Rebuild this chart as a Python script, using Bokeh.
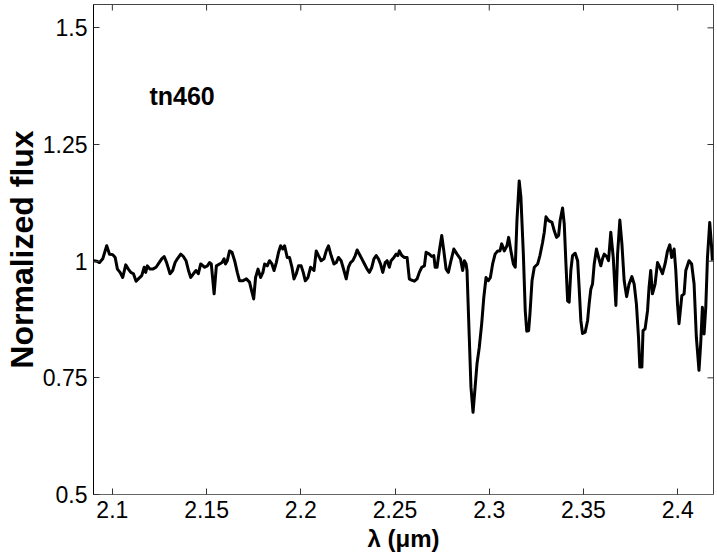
import math
from bokeh.plotting import figure
from bokeh.models import Range1d, FixedTicker, Label
from bokeh.embed import file_html
from bokeh.resources import INLINE

wavelength = [
    2.0900, 2.0917, 2.0932, 2.0949, 2.0970, 2.0985, 2.1002, 2.1015, 2.1027, 2.1041,
    2.1055, 2.1071, 2.1085, 2.1098, 2.1112, 2.1126, 2.1138, 2.1156, 2.1169, 2.1177,
    2.1186, 2.1200, 2.1214, 2.1232, 2.1244, 2.1262, 2.1275, 2.1288, 2.1306, 2.1320,
    2.1333, 2.1345, 2.1363, 2.1377, 2.1391, 2.1404, 2.1416, 2.1430, 2.1444, 2.1456,
    2.1469, 2.1490, 2.1504, 2.1516, 2.1525, 2.1540, 2.1552, 2.1569, 2.1582, 2.1593,
    2.1600, 2.1610, 2.1622, 2.1635, 2.1649, 2.1663, 2.1675, 2.1693, 2.1711, 2.1728,
    2.1737, 2.1750, 2.1760, 2.1773, 2.1787, 2.1799, 2.1808, 2.1822, 2.1834, 2.1847,
    2.1858, 2.1870, 2.1882, 2.1893, 2.1905, 2.1914, 2.1928, 2.1940, 2.1953, 2.1964,
    2.1976, 2.1988, 2.2002, 2.2013, 2.2024, 2.2038, 2.2052, 2.2070, 2.2082, 2.2094,
    2.2108, 2.2123, 2.2135, 2.2147, 2.2161, 2.2176, 2.2188, 2.2200, 2.2214, 2.2229,
    2.2241, 2.2253, 2.2264, 2.2276, 2.2289, 2.2299, 2.2311, 2.2324, 2.2338, 2.2352,
    2.2364, 2.2377, 2.2388, 2.2400, 2.2412, 2.2423, 2.2435, 2.2448, 2.2458, 2.2470,
    2.2479, 2.2494, 2.2506, 2.2515, 2.2523, 2.2536, 2.2550, 2.2564, 2.2576, 2.2585,
    2.2603, 2.2617, 2.2629, 2.2642, 2.2656, 2.2665, 2.2682, 2.2695, 2.2706, 2.2713,
    2.2723, 2.2735, 2.2748, 2.2759, 2.2771, 2.2783, 2.2797, 2.2812, 2.2829, 2.2847,
    2.2859, 2.2868, 2.2877, 2.2882, 2.2894, 2.2903, 2.2914, 2.2925, 2.2935, 2.2947,
    2.2960, 2.2971, 2.2983, 2.2995, 2.3006, 2.3018, 2.3031, 2.3045, 2.3057, 2.3066,
    2.3080, 2.3094, 2.3103, 2.3115, 2.3128, 2.3138, 2.3147, 2.3159, 2.3168, 2.3181,
    2.3191, 2.3199, 2.3209, 2.3216, 2.3227, 2.3239, 2.3257, 2.3269, 2.3283, 2.3292,
    2.3301, 2.3315, 2.3333, 2.3345, 2.3357, 2.3368, 2.3376, 2.3389, 2.3398, 2.3407,
    2.3416, 2.3424, 2.3433, 2.3442, 2.3456, 2.3469, 2.3477, 2.3486, 2.3495, 2.3509,
    2.3522, 2.3530, 2.3539, 2.3548, 2.3557, 2.3569, 2.3580, 2.3592, 2.3601, 2.3610,
    2.3623, 2.3633, 2.3645, 2.3658, 2.3672, 2.3681, 2.3693, 2.3704, 2.3716, 2.3729,
    2.3742, 2.3757, 2.3769, 2.3781, 2.3792, 2.3799, 2.3810, 2.3816, 2.3827, 2.3840,
    2.3848, 2.3857, 2.3866, 2.3880, 2.3893, 2.3905, 2.3919, 2.3933, 2.3946, 2.3958,
    2.3968, 2.3981, 2.3990, 2.3999, 2.4007, 2.4022, 2.4034, 2.4043, 2.4060, 2.4074,
    2.4087, 2.4099, 2.4113, 2.4122, 2.4131, 2.4140, 2.4149, 2.4158, 2.4170, 2.4180,
    2.4184,
]

flux = [
    1.001, 1.000, 0.997, 1.005, 1.033, 1.015, 1.014, 1.008, 0.983, 0.976,
    0.965, 0.992, 0.983, 0.976, 0.973, 0.957, 0.962, 0.969, 0.987, 0.976,
    0.990, 0.983, 0.983, 0.987, 0.994, 1.005, 1.010, 0.997, 0.973, 0.980,
    0.997, 1.005, 1.015, 1.010, 1.001, 0.980, 0.965, 0.973, 0.980, 0.973,
    0.994, 0.987, 0.990, 0.997, 0.994, 0.930, 0.990, 0.994, 0.997, 1.005,
    0.994, 1.001, 1.022, 1.019, 1.001, 0.976, 0.958, 0.958, 0.962, 0.955,
    0.940, 0.919, 0.965, 0.983, 0.965, 0.976, 0.994, 0.990, 1.001, 0.994,
    0.980, 0.997, 1.019, 1.033, 1.026, 1.033, 1.008, 1.008, 0.987, 0.962,
    0.973, 0.990, 0.990, 0.976, 0.958, 0.965, 0.987, 0.980, 1.022, 1.012,
    1.001, 1.005, 1.022, 1.033, 1.012, 0.994, 0.997, 1.008, 1.001, 0.980,
    0.962, 0.987, 0.997, 1.001, 1.012, 1.024, 1.015, 1.005, 0.994, 0.983,
    0.976, 0.987, 1.005, 1.012, 1.005, 0.994, 0.976, 0.997, 1.001, 0.987,
    1.001, 1.008, 1.015, 1.012, 1.022, 1.012, 1.008, 1.008, 0.962, 0.960,
    0.957, 0.962, 0.976, 0.987, 0.990, 1.019, 1.015, 1.010, 1.012, 0.987,
    0.987, 1.022, 1.055, 1.022, 0.983, 0.976, 1.001, 1.026, 1.015, 1.005,
    0.980, 1.001, 0.994, 0.980, 0.837, 0.730, 0.676, 0.730, 0.780, 0.815,
    0.866, 0.922, 0.965, 0.958, 0.965, 0.994, 1.015, 1.022, 1.022, 1.037,
    1.022, 1.033, 1.051, 1.022, 0.994, 0.987, 1.087, 1.172, 1.137, 1.015,
    0.894, 0.850, 0.851, 0.887, 0.958, 0.987, 0.994, 1.012, 1.040, 1.062,
    1.095, 1.087, 1.083, 1.065, 1.051, 1.055, 1.087, 1.114, 1.080, 0.994,
    0.915, 0.912, 0.980, 1.012, 1.017, 1.001, 0.944, 0.873, 0.845, 0.848,
    0.873, 0.908, 0.940, 0.951, 0.994, 1.026, 1.008, 0.990, 1.005, 1.015,
    1.010, 1.001, 1.062, 1.008, 0.905, 1.015, 1.088, 1.037, 0.958, 0.924,
    0.951, 0.967, 0.951, 0.908, 0.837, 0.773, 0.773, 0.851, 0.855, 0.894,
    0.944, 0.980, 0.930, 0.951, 0.997, 0.987, 0.973, 0.994, 1.022, 1.035,
    1.008, 1.026, 0.980, 0.908, 0.866, 0.926, 0.930, 0.980, 1.001, 0.994,
    0.951, 0.837, 0.766, 0.823, 0.901, 0.844, 0.901, 1.008, 1.083, 1.030,
    1.001,
]

x_ticks = [2.1, 2.15, 2.2, 2.25, 2.3, 2.35, 2.4]
x_tick_labels = ["2.1", "2.15", "2.2", "2.25", "2.3", "2.35", "2.4"]
y_ticks = [0.5, 0.75, 1.0, 1.25, 1.5]
y_tick_labels = ["0.5", "0.75", "1", "1.25", "1.5"]
star_name = "tn460"
star_label_pos = (2.1197, 1.353)

FONT = "Liberation Sans"

x_range = Range1d(2.09, 2.419)
y_range = Range1d(0.5, 1.55)

p = figure(
    width=717, height=557,
    output_backend="svg", toolbar_location=None,
    x_range=x_range, y_range=y_range,
    x_axis_location="below", y_axis_location="left",
    min_border_left=92, min_border_right=4, min_border_top=4, min_border_bottom=63,
)
p.grid.visible = False
p.background_fill_color = "white"
p.border_fill_color = "white"
p.outline_line_color = "#444444"
p.outline_line_width = 1

p.line(wavelength, flux, line_color="black", line_width=3, line_join="round")

# mirrored inward ticks on the top and right frame edges (no text)
p.ray(x=x_ticks, y=[y_range.end] * len(x_ticks), length=6, length_units="screen",
      angle=-math.pi / 2, line_color="#333333", line_width=1)
p.ray(x=[x_range.end] * len(y_ticks), y=y_ticks, length=6, length_units="screen",
      angle=math.pi, line_color="#333333", line_width=1)


def style_axis(ax, ticks, labels):
    ax.ticker = FixedTicker(ticks=ticks)
    ax.major_label_overrides = {t: l for t, l in zip(ticks, labels)}
    ax.major_tick_in = 6
    ax.major_tick_out = 0
    ax.minor_tick_in = 0
    ax.minor_tick_out = 0
    ax.major_tick_line_color = "#333333"
    ax.major_label_text_font = FONT
    ax.major_label_text_color = "black"
    ax.major_label_text_font_size = "23px"


xa = p.xaxis[0]
style_axis(xa, x_ticks, x_tick_labels)
xa.major_label_standoff = 6
xa.axis_label = "λ (μm)"
xa.axis_label_text_font = FONT
xa.axis_label_text_font_style = "bold"
xa.axis_label_text_font_size = "24px"
xa.axis_label_text_color = "black"
xa.axis_label_standoff = 4
xa.axis_line_color = "#666666"

ya = p.yaxis[0]
style_axis(ya, y_ticks, y_tick_labels)
ya.major_label_standoff = 6
ya.axis_label = "Normalized flux"
ya.axis_label_text_font = FONT
ya.axis_label_text_font_style = "bold"
ya.axis_label_text_font_size = "32px"
ya.axis_label_text_color = "black"
ya.axis_label_standoff = 0
ya.axis_line_color = "black"

p.add_layout(Label(
    x=star_label_pos[0], y=star_label_pos[1], text=star_name,
    text_font=FONT, text_font_style="bold", text_font_size="25px",
    text_baseline="middle", text_align="left", text_color="black",
))

open("out.html", "w").write(file_html(p, INLINE))
